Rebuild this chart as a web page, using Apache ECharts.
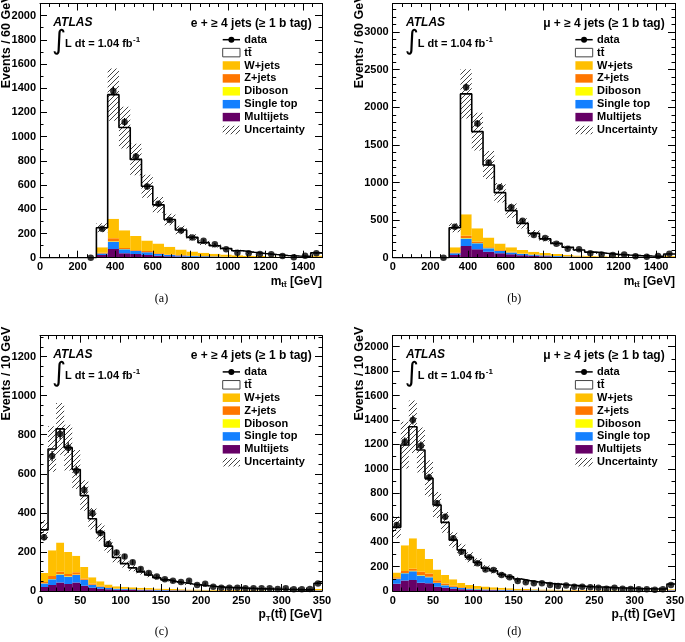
<!DOCTYPE html>
<html>
<head>
<meta charset="utf-8">
<title>ATLAS ttbar kinematics</title>
<script src="https://cdn.jsdelivr.net/npm/echarts@6.0.0/dist/echarts.min.js"></script>
<style>
html,body{margin:0;padding:0;background:#ffffff;}
#chart{width:685px;height:642px;}
</style>
</head>
<body>
<div id="chart"></div>
<script>
// ---------------- binning (categories) ----------------
const mttBinLow = [0,60,120,180,240,300,360,420,480,540,600,660,720,780,840,900,960,1020,1080,1140,1200,1260,1320,1380,1440];
const mttBinWidth = 60;
const ptBinLow = [0,10,20,30,40,50,60,70,80,90,100,110,120,130,140,150,160,170,180,190,200,210,220,230,240,250,260,270,280,290,300,310,320,330,340];
const ptBinWidth = 10;

// ---------------- (a) e + jets, m_tt ----------------
const eMttData = [null,null,null,null,0, 240,1378,1121,836,588,445,312,224,166,141,111,70,41,36,30,28,14,3,17,36];
const eMttTT   = [0,0,0,0,0, 162,1025,849,632,447,320,226,161,116,84,67,50,37,29,21,16,11,8,6,22];
const eMttW    = [0,0,0,0,0, 46,162,146,117,88,80,62,46,35,27,21,18,14,11,9,7,5,4,3,10];
const eMttZ    = [0,0,0,0,0, 5,24,8,6,9,5,4,3,2,2,1.5,1,1,1,0.5,0.5,0.5,0.3,0.3,1.5];
const eMttVV   = [0,0,0,0,0, 1,4,3,2,2,1.5,1,1,1,0.5,0.5,0.5,0.5,0.3,0.3,0.2,0.2,0.2,0.1,0.5];
const eMttST   = [0,0,0,0,0, 12,60,33,25,22,13,10,8,6,5,4,3,2,2,1.5,1,1,0.5,0.5,2];
const eMttMJ   = [0,0,0,0,0, 22,72,36,30,22,17,13,10,8,6,5,4,3,2,2,1.5,1,1,1,4];
const eMttUnc  = [0,0,0,0,0, 0.15,0.16,0.16,0.16,0.16,0.15,0.15,0.15,0.15,0.15,0.14,0.14,0.14,0.14,0.14,0.14,0.14,0.14,0.14,0.15];

// ---------------- (b) mu + jets, m_tt ----------------
const muMttData = [null,null,null,null,0, 413,2267,1784,1265,936,670,492,302,262,186,120,111,58,44,35,44,18,13,22,53];
const muMttTT   = [0,0,0,0,0, 261,1601,1287,963,675,486,354,244,188,142,100,72,51,39,29,23,17,14,11,28];
const muMttW    = [0,0,0,0,0, 68,285,177,132,88,62,46,37,30,24,19,14,12,10,8,6,6,4,4,11];
const muMttZ    = [0,0,0,0,0, 10,30,17,9,10,7,5,4,3,2,2,2,1,1,1,1,1,0.5,0.5,2];
const muMttVV   = [0,0,0,0,0, 2,6,5,4,3,2,2,1,1,1,1,1,0.5,0.5,0.5,0.3,0.3,0.2,0.2,1];
const muMttST   = [0,0,0,0,0, 22,100,80,45,31,24,17,13,10,8,6,5,4,3,2,2,1,1,1,3];
const muMttMJ   = [0,0,0,0,0, 36,156,111,80,58,45,33,25,18,13,10,8,6,5,4,3,2,2,1,5];
const muMttUnc  = [0,0,0,0,0, 0.15,0.15,0.15,0.15,0.15,0.15,0.15,0.14,0.14,0.14,0.14,0.14,0.14,0.14,0.14,0.14,0.14,0.14,0.14,0.15];

// ---------------- (c) e + jets, pT(tt) ----------------
const ePtData = [275,691,804,734,616,517,398,297,240,197,176,147,112,92,74,60,52,46,52,31,37,22,17,17,17,14,14,14,14,10,14,9,9,10,39];
const ePtTT   = [221,519,582,534,442,366,300,250,197,147,118,99,81,67,55,45,38,33,28,24,21,17,15,13,11.5,10,8,7.5,7,6,5,4.5,3.5,3.5,30];
const ePtW    = [46,131,149,113,84,58,31,23,14,10,10,9,8.5,7.5,7,6.5,5.5,5,4.5,4,3.2,3.7,2.8,2.9,2.7,2.4,2.5,2.1,1.8,1.8,1.9,1.5,1.5,1.5,4.5];
const ePtZ    = [6,15,12,12,12,7,7,4,3,2,1.5,1.2,1,1,0.8,0.7,0.6,0.5,0.5,0.4,0.4,0.3,0.3,0.3,0.3,0.2,0.2,0.2,0.2,0.2,0.2,0.2,0.2,0.2,1];
const ePtVV   = [1,2,2,2,2,1.5,1,1,0.8,0.6,0.5,0.5,0.4,0.4,0.3,0.3,0.3,0.2,0.2,0.2,0.2,0.2,0.1,0.1,0.1,0.1,0.1,0.1,0.1,0.1,0.1,0.1,0.1,0.1,0.5];
const ePtST   = [19,29,42,37,38,29,14,10,6,5,4,3.5,3,2.5,2,2,1.5,1.5,1.2,1,1,0.8,0.8,0.7,0.6,0.5,0.5,0.5,0.4,0.4,0.3,0.3,0.3,0.3,2];
const ePtMJ   = [20,31,43,36,44,27,17,12,9,7,6,5,4,3.5,3,2.5,2,2,1.5,1.5,1.2,1,1,1,0.8,0.8,0.7,0.6,0.5,0.5,0.5,0.4,0.4,0.4,2];
const ePtUnc  = [0.16,0.16,0.16,0.16,0.16,0.16,0.15,0.15,0.15,0.15,0.14,0.14,0.14,0.14,0.14,0.14,0.14,0.14,0.14,0.14,0.14,0.14,0.14,0.14,0.14,0.14,0.14,0.14,0.14,0.14,0.14,0.14,0.14,0.14,0.15];

// ---------------- (d) mu + jets, pT(tt) ----------------
const muPtData = [540,1222,1400,1190,930,718,608,431,322,276,227,177,172,131,112,82,71,63,63,49,41,46,35,35,30,27,19,27,19,16,14,14,11,14,49];
const muPtTT   = [369,821,914,809,660,527,431,322,270,226,193,150,136,110,95,79,68,61,55,48,44,39,35,30,28,26.5,24,21.5,20,17.5,15,15,12.5,12.5,42];
const muPtW    = [40,210,249,188,118,90,70,53,35,26,23,21,17,15,12,10,9.5,8.5,7.3,6.9,6.5,6,5.4,4.9,4.1,4,3.7,3.4,3.2,2.7,2.4,2.5,2.1,2.2,7.5];
const muPtZ    = [10,16,17,27,28,20,12,9,6,4,3,2.5,2,1.8,1.5,1.3,1.2,1,0.9,0.8,0.7,0.6,0.6,0.5,0.5,0.4,0.4,0.4,0.3,0.3,0.3,0.3,0.3,0.3,1.5];
const muPtVV   = [2,3,3,3,3,2,1.5,1.2,1,0.8,0.7,0.6,0.5,0.5,0.4,0.4,0.3,0.3,0.3,0.3,0.2,0.2,0.2,0.2,0.2,0.1,0.1,0.1,0.1,0.1,0.1,0.1,0.1,0.1,0.5];
const muPtST   = [40,60,72,59,50,30,20,14,10,8,6,5,4.5,4,3.5,3,2.5,2.2,2,1.8,1.6,1.4,1.2,1,1,0.9,0.8,0.7,0.6,0.6,0.5,0.5,0.4,0.4,2.5];
const muPtMJ   = [60,85,90,68,63,35,27,19,14,11,9,7,6,5,4.5,4,3.5,3,2.5,2.2,2,1.8,1.6,1.4,1.2,1.1,1,0.9,0.8,0.8,0.7,0.6,0.6,0.5,3];
const muPtUnc  = [0.17,0.16,0.16,0.16,0.16,0.15,0.15,0.15,0.15,0.15,0.14,0.14,0.14,0.14,0.14,0.14,0.14,0.14,0.14,0.14,0.14,0.14,0.14,0.14,0.14,0.14,0.14,0.14,0.14,0.14,0.14,0.14,0.14,0.14,0.15];

// ---------------- styling ----------------
const SANS = '"Liberation Sans", Arial, Helvetica, sans-serif';
const SERIF = '"Liberation Serif", "Times New Roman", serif';
const COL = {mj:'#660066', st:'#1480FF', vv:'#FFFF00', z:'#FF7600', w:'#FFBF00', tt:'#FFFFFF'};

function makeHatch(){
  const s = 5;
  const c = document.createElement('canvas'); c.width = s; c.height = s;
  const g = c.getContext('2d');
  g.strokeStyle = '#454545'; g.lineWidth = 1;
  g.beginPath();
  g.moveTo(0, s); g.lineTo(s, 0);
  g.moveTo(-1, 1); g.lineTo(1, -1);
  g.moveTo(s - 1, s + 1); g.lineTo(s + 1, s - 1);
  g.stroke();
  return c;
}
const hatchPattern = {image: makeHatch(), repeat: 'repeat'};

const mctx = document.createElement('canvas').getContext('2d');
function tw(text, font){ mctx.font = font; return mctx.measureText(text).width; }

const panels = [
  {grid:{left:40, top:3.5, width:282, height:254.2}, lows:mttBinLow, bw:mttBinWidth, xmax:1500, xint:200, xminor:4, showMaxX:false,
   ymax:2100, yint:200, yminor:2,
   data:eMttData, tt:eMttTT, w:eMttW, z:eMttZ, vv:eMttVV, st:eMttST, mj:eMttMJ, unc:eMttUnc,
   channel:'e + \u2265 4 jets (\u2265 1 b tag)', ytitle:'Events / 60 GeV', xtitle:[['m',0],['tt\u0304',1],[' [GeV]',0]], label:'(a)'},
  {grid:{left:392.7, top:3.5, width:282.3, height:254.2}, lows:mttBinLow, bw:mttBinWidth, xmax:1500, xint:200, xminor:4, showMaxX:false,
   ymax:3380, yint:500, yminor:5,
   data:muMttData, tt:muMttTT, w:muMttW, z:muMttZ, vv:muMttVV, st:muMttST, mj:muMttMJ, unc:muMttUnc,
   channel:'\u03BC + \u2265 4 jets (\u2265 1 b tag)', ytitle:'Events / 60 GeV', xtitle:[['m',0],['tt\u0304',1],[' [GeV]',0]], label:'(b)'},
  {grid:{left:40, top:335.7, width:282, height:255.3}, lows:ptBinLow, bw:ptBinWidth, xmax:350, xint:50, xminor:5, showMaxX:true,
   ymax:1307, yint:200, yminor:4,
   data:ePtData, tt:ePtTT, w:ePtW, z:ePtZ, vv:ePtVV, st:ePtST, mj:ePtMJ, unc:ePtUnc,
   channel:'e + \u2265 4 jets (\u2265 1 b tag)', ytitle:'Events / 10 GeV', xtitle:[['p',0],['T',1],['(tt\u0304) [GeV]',0]], label:'(c)'},
  {grid:{left:392.7, top:335.7, width:282.3, height:255.3}, lows:ptBinLow, bw:ptBinWidth, xmax:350, xint:50, xminor:5, showMaxX:true,
   ymax:2090, yint:200, yminor:2,
   data:muPtData, tt:muPtTT, w:muPtW, z:muPtZ, vv:muPtVV, st:muPtST, mj:muPtMJ, unc:muPtUnc,
   channel:'\u03BC + \u2265 4 jets (\u2265 1 b tag)', ytitle:'Events / 10 GeV', xtitle:[['p',0],['T',1],['(tt\u0304) [GeV]',0]], label:'(d)'}
];

const legendEntries = [
  {name:'data', kind:'marker'},
  {name:'tt\u0304', kind:'box', fill:'#ffffff', stroke:'#444444'},
  {name:'W+jets', kind:'box', fill:COL.w},
  {name:'Z+jets', kind:'box', fill:COL.z},
  {name:'Diboson', kind:'box', fill:COL.vv},
  {name:'Single top', kind:'box', fill:COL.st},
  {name:'Multijets', kind:'box', fill:COL.mj},
  {name:'Uncertainty', kind:'box', fill:hatchPattern}
];

function rectRenderer(fill){
  return function(params, api){
    const a = api.coord([api.value(0), api.value(3)]);
    const b = api.coord([api.value(1), api.value(2)]);
    return {type:'rect', shape:{x:a[0], y:a[1], width:b[0]-a[0], height:b[1]-a[1]}, style:{fill:fill, stroke:null}};
  };
}
function errRenderer(params, api){
  const x = api.value(0), y = api.value(1), e = api.value(2);
  const p1 = api.coord([x, y - e]), p2 = api.coord([x, y + e]);
  return {type:'line', shape:{x1:p1[0], y1:p1[1], x2:p2[0], y2:p2[1]}, style:{stroke:'#000', lineWidth:1.2}};
}

function axis(gi, min, max, interval, minorSplit, pos, showLabel, showMaxLabel){
  return {type:'value', gridIndex:gi, position:pos, min:min, max:max, interval:interval, z:10, silent:true,
    axisLine:{show:true, onZero:false, lineStyle:{color:'#000', width:1}},
    axisTick:{show:true, inside:true, length:7, lineStyle:{color:'#000', width:1}},
    minorTick:{show:true, splitNumber:minorSplit, length:3.5, lineStyle:{color:'#000', width:1}},
    splitLine:{show:false}, minorSplitLine:{show:false},
    axisLabel:{show:showLabel, color:'#000', fontFamily:SANS, fontWeight:'bold', fontSize:11, margin:4,
      showMinLabel:true, showMaxLabel:showMaxLabel, hideOverlap:false,
      formatter:function(v){ return String(Math.round(v)); }},
    axisPointer:{show:false}};
}

function txt(x, y, text, font, align, extra){
  return Object.assign({type:'text', x:x, y:y, silent:true, z:100,
    style:{text:text, font:font, fill:'#000', align:align, textAlign:align, verticalAlign:'middle', textVerticalAlign:'middle'}}, extra || {});
}

const option = {animation:false, backgroundColor:'#ffffff', grid:[], xAxis:[], yAxis:[], series:[], graphic:{elements:[]}};
const els = option.graphic.elements;

panels.forEach(function(p, gi){
  option.grid.push(Object.assign({outerBoundsMode:'none', containLabel:false, show:false}, p.grid));
  option.xAxis.push(axis(gi, 0, p.xmax, p.xint, p.xminor, 'bottom', true, p.showMaxX));
  option.xAxis.push(axis(gi, 0, p.xmax, p.xint, p.xminor, 'top', false, false));
  option.yAxis.push(axis(gi, 0, p.ymax, p.yint, p.yminor, 'left', true, false));
  option.yAxis.push(axis(gi, 0, p.ymax, p.yint, p.yminor, 'right', false, false));
  const xi = 2*gi, yi = 2*gi;
  const n = p.lows.length;
  const comps = [['Multijets', p.mj, COL.mj], ['Single top', p.st, COL.st], ['Diboson', p.vv, COL.vv],
                 ['Z+jets', p.z, COL.z], ['W+jets', p.w, COL.w], ['tt\u0304', p.tt, COL.tt]];
  const base = new Array(n).fill(0);
  comps.forEach(function(c){
    const d = [];
    for (let i = 0; i < n; i++){ const lo = base[i], hi = lo + c[1][i]; d.push([p.lows[i], p.lows[i] + p.bw, lo, hi]); base[i] = hi; }
    option.series.push({type:'custom', name:c[0], xAxisIndex:xi, yAxisIndex:yi, clip:true, silent:true,
      renderItem:rectRenderer(c[2]), encode:{x:[0,1], y:[2,3]}, data:d});
  });
  // uncertainty band
  const ud = [];
  for (let i = 0; i < n; i++){ ud.push([p.lows[i], p.lows[i] + p.bw, base[i]*(1 - p.unc[i]), base[i]*(1 + p.unc[i])]); }
  option.series.push({type:'custom', name:'Uncertainty', xAxisIndex:xi, yAxisIndex:yi, clip:true, silent:true,
    renderItem:rectRenderer(hatchPattern), encode:{x:[0,1], y:[2,3]}, data:ud});
  // total MC outline
  const sd = p.lows.map(function(x, i){ return [x, base[i]]; });
  sd.push([p.lows[n-1] + p.bw, base[n-1]]);
  option.series.push({type:'line', name:'total', xAxisIndex:xi, yAxisIndex:yi, step:'end', showSymbol:false, symbol:'none',
    silent:true, lineStyle:{color:'#000', width:1.6}, data:sd});
  // data
  const dd = [], ed = [];
  for (let i = 0; i < n; i++){
    const v = p.data[i];
    if (v === null) continue;
    const cx = p.lows[i] + p.bw/2;
    dd.push([cx, v]); ed.push([cx, v, Math.sqrt(v)]);
  }
  option.series.push({type:'custom', name:'data err', xAxisIndex:xi, yAxisIndex:yi, clip:true, silent:true,
    renderItem:errRenderer, encode:{x:0, y:1}, data:ed});
  option.series.push({type:'scatter', name:'data', xAxisIndex:xi, yAxisIndex:yi, symbol:'circle', symbolSize:6.5, silent:true,
    itemStyle:{color:'#000'}, data:dd});

  // ---- decorations ----
  const L = p.grid.left, T = p.grid.top, W = p.grid.width, H = p.grid.height, R = L + W, B = T + H;
  const fB12 = 'bold 12px ' + SANS, fB11 = 'bold 11px ' + SANS, fB8 = 'bold 8px ' + SANS;
  els.push(txt(L + 13.3, T + 18.8, 'ATLAS', 'italic bold 12px ' + SANS, 'left'));
  els.push(txt(L + 12, T + 38, '\u222B', '27px "DejaVu Sans"', 'left'));
  const s1 = 'L dt = 1.04 fb';
  els.push(txt(L + 25, T + 40.4, s1, fB11, 'left'));
  els.push(txt(L + 25 + tw(s1, fB11) + 0.5, T + 36, '-1', fB8, 'left'));
  els.push(txt(R - 10.3, T + 20, p.channel, fB12, 'right'));
  const ix = L + 182.7, iw = 17.3, ih = 8.5, tx = L + 204.3;
  legendEntries.forEach(function(e, k){
    const y = T + 36.2 + k * 12.9;
    if (e.kind === 'marker'){
      els.push({type:'line', silent:true, z:100, shape:{x1:ix, y1:y, x2:ix + iw, y2:y}, style:{stroke:'#000', lineWidth:1.5}});
      els.push({type:'circle', silent:true, z:100, shape:{cx:ix + iw/2, cy:y, r:3}, style:{fill:'#000'}});
    } else {
      els.push({type:'rect', silent:true, z:100, shape:{x:ix, y:y - ih/2, width:iw, height:ih},
        style:{fill:e.fill, stroke:e.stroke || null, lineWidth:1}});
    }
    els.push(txt(tx, y, e.name, fB11, 'left'));
  });
  // y title (rotated, right-aligned to the top)
  els.push(txt(L - 33, T - 9, p.ytitle, 'bold 12.5px ' + SANS, 'right', {rotation: Math.PI/2}));
  // x title (right-aligned at the axis end, with subscript)
  const fonts = [fB12, fB8];
  let total = 0;
  p.xtitle.forEach(function(pc){ total += tw(pc[0], fonts[pc[1]]); });
  let cx = R - total;
  p.xtitle.forEach(function(pc){
    els.push(txt(cx, B + 24 + (pc[1] ? 3.5 : 0), pc[0], fonts[pc[1]], 'left'));
    cx += tw(pc[0], fonts[pc[1]]);
  });
  // panel label
  els.push(txt(L + 121.5, B + 40.7, p.label, '12px ' + SERIF, 'center'));
});

const chart = echarts.init(document.getElementById('chart'), null, {renderer:'canvas'});
chart.setOption(option);
</script>
</body>
</html>
